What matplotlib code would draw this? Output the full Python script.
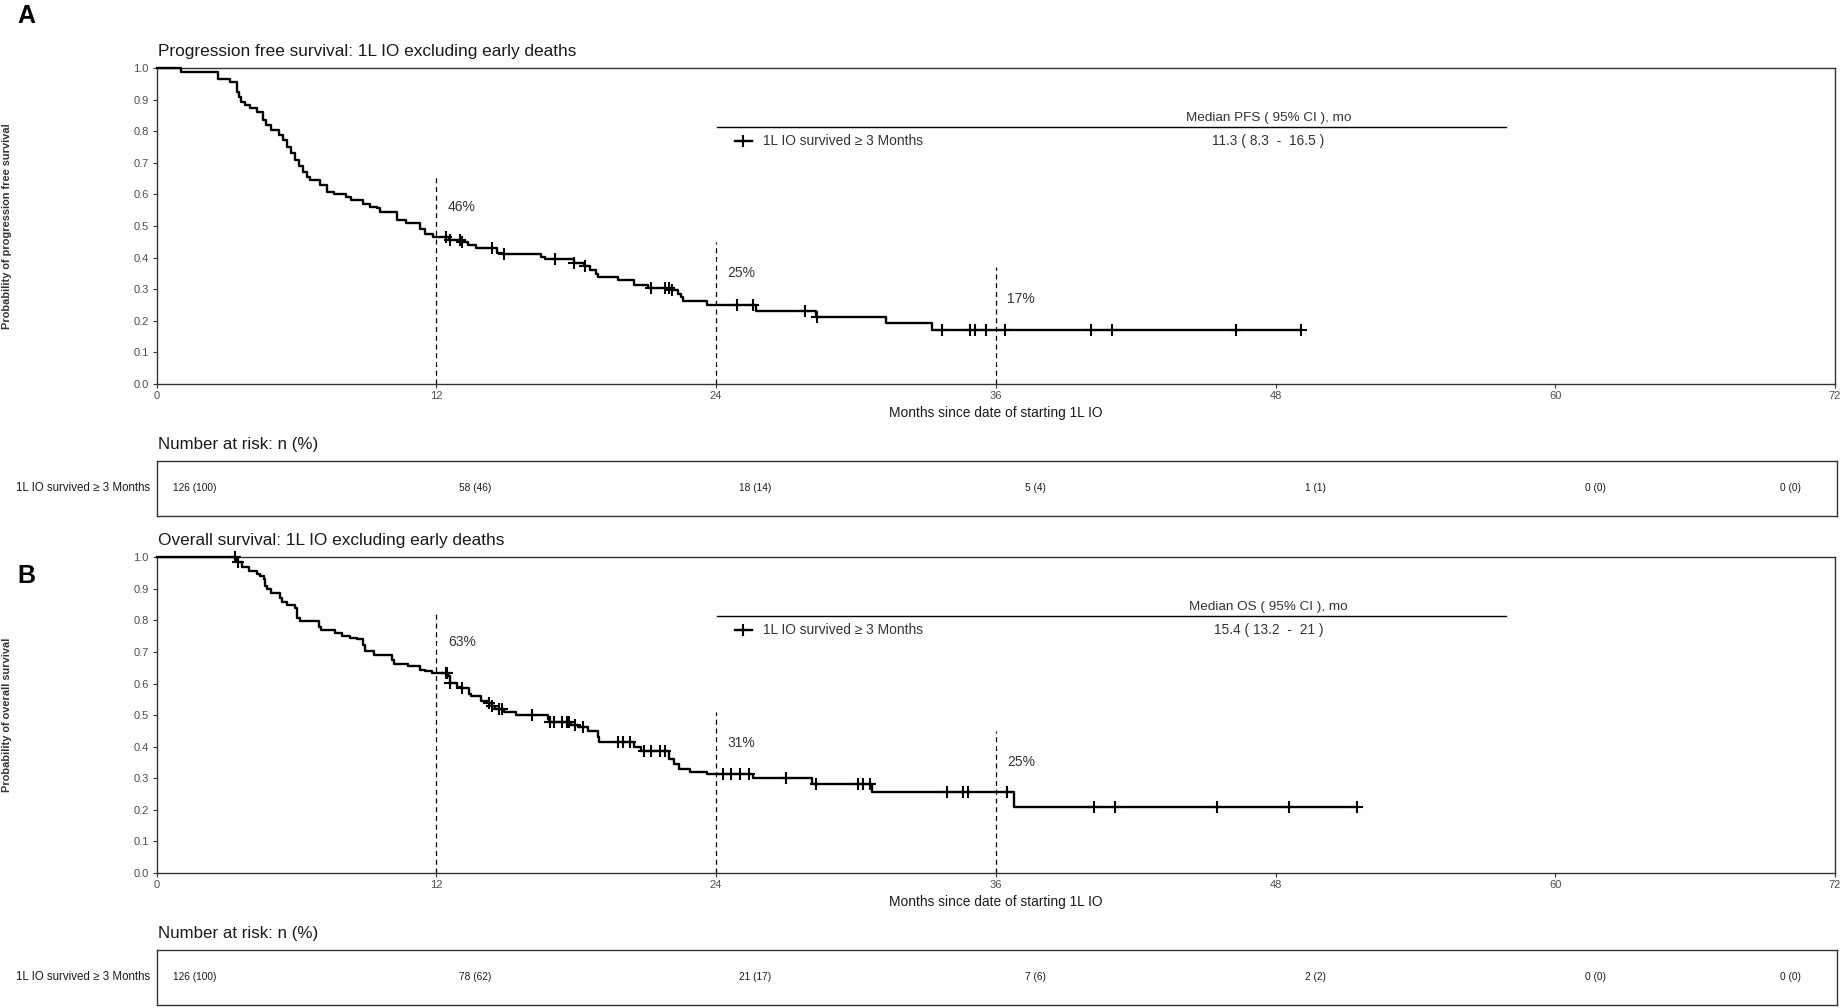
import numpy as np
import matplotlib
matplotlib.use("Agg")
import matplotlib.pyplot as plt

plt.rcParams['font.family'] = ['Liberation Sans', 'DejaVu Sans']

# ---------------- data ----------------
pfs_time = [0, 1.07, 2.65, 3.15, 3.45, 3.55, 3.62, 3.8, 4.0, 4.3, 4.58, 4.7, 4.9,
            5.25, 5.42, 5.58, 5.75, 5.92, 6.1, 6.28, 6.45, 6.6, 7.0, 7.3, 7.6, 8.15,
            8.35, 8.85, 9.15, 9.45, 9.6, 10.3, 10.7, 11.3, 11.5, 11.85, 12.55, 13.05,
            13.35, 13.7, 14.6, 14.8, 16.5, 16.65, 17.9, 18.35, 18.6, 18.85, 18.95,
            19.8, 20.5, 21.1, 22.05, 22.35, 22.5, 22.6, 23.6, 25.7, 28.3, 31.3, 33.25]
pfs_surv = [1.0, 0.989, 0.965, 0.955, 0.926, 0.91, 0.894, 0.884, 0.873, 0.863, 0.836,
            0.82, 0.806, 0.79, 0.773, 0.752, 0.73, 0.71, 0.69, 0.672, 0.656, 0.646,
            0.63, 0.609, 0.601, 0.593, 0.582, 0.57, 0.561, 0.556, 0.545, 0.52, 0.51,
            0.492, 0.476, 0.464, 0.457, 0.45, 0.44, 0.43, 0.415, 0.41, 0.403, 0.394,
            0.383, 0.372, 0.36, 0.348, 0.339, 0.328, 0.314, 0.305, 0.296, 0.285,
            0.274, 0.261, 0.25, 0.23, 0.212, 0.192, 0.17]
pfs_censor = [12.4, 12.6, 13.0, 13.1, 14.4, 14.9, 17.1, 17.9, 18.4, 21.2, 21.8, 22.0,
              22.1, 24.9, 25.6, 27.8, 28.35, 33.7, 34.9, 35.1, 35.6, 36.4, 40.1, 41.0,
              46.3, 49.1]
pfs_end = 49.1

os_time = [0, 3.45, 3.65, 3.95, 4.3, 4.45, 4.6, 4.65, 4.72, 4.9, 5.3, 5.4, 5.6, 5.95,
           6.02, 6.15, 6.95, 7.05, 7.65, 7.95, 8.3, 8.6, 8.85, 8.95, 9.35, 10.1, 10.2,
           10.8, 11.3, 11.5, 11.8, 12.5, 12.6, 12.9, 13.0, 13.4, 13.5, 13.9, 14.25,
           14.4, 14.5, 14.9, 15.4, 16.8, 16.85, 17.8, 18.1, 18.5, 18.95, 19.0, 20.5,
           20.8, 22.0, 22.2, 22.4, 22.9, 23.6, 25.6, 28.1, 30.7, 36.8]
os_surv = [1.0, 0.984, 0.97, 0.955, 0.946, 0.94, 0.93, 0.91, 0.90, 0.886, 0.87, 0.858,
           0.85, 0.84, 0.807, 0.797, 0.78, 0.77, 0.76, 0.752, 0.744, 0.74, 0.723, 0.704,
           0.69, 0.676, 0.662, 0.655, 0.644, 0.639, 0.634, 0.623, 0.602, 0.59, 0.586,
           0.567, 0.56, 0.544, 0.537, 0.528, 0.52, 0.51, 0.50, 0.486, 0.479, 0.47,
           0.462, 0.45, 0.43, 0.416, 0.40, 0.385, 0.36, 0.345, 0.33, 0.32, 0.312,
           0.30, 0.28, 0.255, 0.21]
os_censor = [3.37, 3.5, 12.4, 12.47, 12.6, 13.1, 14.25, 14.4, 14.7, 14.8, 16.1, 16.9,
             17.05, 17.4, 17.6, 17.7, 17.95, 18.3, 19.8, 20.0, 20.3, 20.9, 21.2, 21.6,
             21.8, 24.3, 24.65, 25.05, 25.4, 27.0, 28.3, 30.1, 30.3, 30.6, 33.9, 34.6,
             34.8, 36.5, 40.2, 41.1, 45.5, 48.6, 51.5]
os_end = 51.5

landmark_months = [12, 24, 36]
pfs_landmark_pct = [46, 25, 17]
os_landmark_pct = [63, 31, 25]

risk_months = [0, 12, 24, 36, 48, 60, 72]
pfs_risk = ["126 (100)", "58 (46)", "18 (14)", "5 (4)", "1 (1)", "0 (0)", "0 (0)"]
os_risk = ["126 (100)", "78 (62)", "21 (17)", "7 (6)", "2 (2)", "0 (0)", "0 (0)"]

group_label = "1L IO survived \u2265 3 Months"
pfs_title = "Progression free survival: 1L IO excluding early deaths"
os_title = "Overall survival: 1L IO excluding early deaths"
pfs_ylabel = "Probability of progression free survival"
os_ylabel = "Probability of overall survival"
xlabel = "Months since date of starting 1L IO"
pfs_median_head = "Median PFS ( 95% CI ), mo"
os_median_head = "Median OS ( 95% CI ), mo"
pfs_median = "11.3 ( 8.3  -  16.5 )"
os_median = "15.4 ( 13.2  -  21 )"
x_ticks = [0, 12, 24, 36, 48, 60, 72]
y_ticks = [0.0, 0.1, 0.2, 0.3, 0.4, 0.5, 0.6, 0.7, 0.8, 0.9, 1.0]

# ---------------- layout ----------------
W, H = 1843, 1008
fig = plt.figure(figsize=(W / 100, H / 100), dpi=100)

LEFT = 156.5 / W
WIDTH = (1835 - 156.5) / W
AX_H = 315.5 / H

TXT = '#1a1a1a'
GRAY = '#4d4d4d'
LEG = '#333333'


def step_value(times, survs, t):
    idx = np.searchsorted(np.asarray(times), t, side='right') - 1
    return np.asarray(survs)[idx]


def draw_panel(top_px, times, survs, censor, end, pcts, title, ylabel,
               med_head, med_val, risk, letter, letter_y_px):
    ax_bottom = 1 - (top_px + 315.5) / H
    ax = fig.add_axes([LEFT, ax_bottom, WIDTH, AX_H])
    ax.set_xlim(0, 72)
    ax.set_ylim(0, 1)
    for s in ax.spines.values():
        s.set_color('#333333')
        s.set_linewidth(1.0)
    ax.set_xticks(x_ticks)
    ax.set_yticks(y_ticks)
    ax.set_yticklabels([f"{v:.1f}" for v in y_ticks])
    ax.tick_params(axis='both', length=3, width=0.8, color='#333333',
                   labelsize=8.0, labelcolor=GRAY, pad=2.5)
    ax.set_xlabel(xlabel, fontsize=9.9, color=TXT, labelpad=3)

    # KM curve
    x = list(times) + [end]
    y = list(survs) + [survs[-1]]
    ax.plot(x, y, drawstyle='steps-post', color='black', lw=1.7, zorder=3,
            clip_on=False)
    cy = [step_value(times, survs, c) for c in censor]
    ax.plot(censor, cy, ls='none', marker='+', ms=9, mew=1.5, color='black',
            zorder=4, clip_on=False)

    # landmarks
    for m, p in zip(landmark_months, pcts):
        ax.plot([m, m], [0, p / 100 + 0.2], ls=(0, (4, 3)), lw=0.9,
                color='black', zorder=2)
        ax.text(m + 0.5, p / 100 + 0.1, f"{p}%", ha='left', va='center',
                fontsize=10, color=LEG)

    # median annotation / legend
    ax.plot([24.05, 57.9], [0.815, 0.815], color='black', lw=1.0)
    ax.text(47.7, 0.843, med_head, ha='center', va='center', fontsize=9.7,
            color=LEG)
    ax.plot([24.8, 25.55], [0.77, 0.77], color='black', lw=1.7)
    ax.plot([25.17], [0.77], marker='+', ms=9, mew=1.5, color='black')
    ax.text(26.0, 0.77, group_label, ha='left', va='center', fontsize=9.9,
            color=LEG)
    ax.text(47.7, 0.77, med_val, ha='center', va='center', fontsize=9.9,
            color=LEG)

    # titles / labels
    fig.text(158 / W, 1 - (top_px - 16.8) / H, title, ha='left', va='center',
             fontsize=12.4, color=TXT)
    fig.text(7 / W, ax_bottom + AX_H / 2, ylabel, rotation=90, ha='center',
             va='center', fontsize=7.9, fontweight='bold', color=LEG)
    fig.text(17 / W, 1 - letter_y_px / H, letter, ha='left', va='center',
             fontsize=18, fontweight='bold', color='black')

    # risk table
    fig.text(158 / W, 1 - (top_px + 376) / H, "Number at risk: n (%)",
             ha='left', va='center', fontsize=12.2, color=TXT)
    tb_top = top_px + 392.7
    tb = fig.add_axes([LEFT, 1 - (tb_top + 55) / H, (1837 - 156.5) / W, 55 / H])
    tb.set_xlim(0, 72)
    tb.set_ylim(0, 1)
    tb.set_xticks([])
    tb.set_yticks([])
    for s in tb.spines.values():
        s.set_color('#333333')
        s.set_linewidth(1.0)
    for m, lab in zip(risk_months, risk):
        tb.text(min(m + 1.65, 70.0), 0.5, lab, ha='center', va='center',
                fontsize=7.3, color=TXT)
    tb.text(-0.004, 0.5, group_label, transform=tb.transAxes, ha='right',
            va='center', fontsize=8.3, color=TXT)
    return ax


draw_panel(68.3, pfs_time, pfs_surv, pfs_censor, pfs_end, pfs_landmark_pct,
           pfs_title, pfs_ylabel, pfs_median_head, pfs_median, pfs_risk, "A", 16)
draw_panel(68.3 + 489, os_time, os_surv, os_censor, os_end, os_landmark_pct,
           os_title, os_ylabel, os_median_head, os_median, os_risk, "B", 576)

fig.savefig("out.png", dpi=100)
